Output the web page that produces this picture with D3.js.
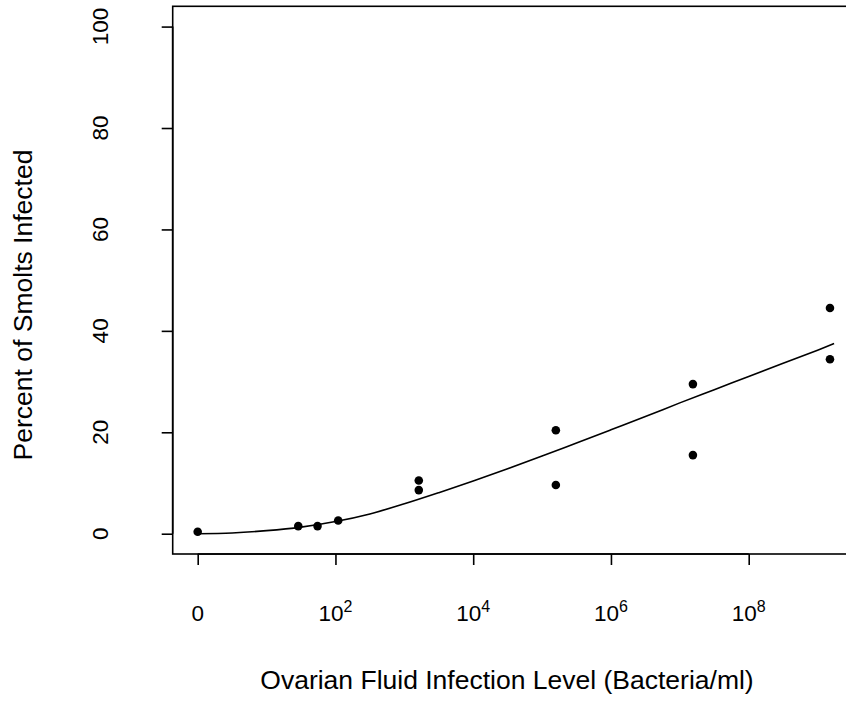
<!DOCTYPE html>
<html>
<head>
<meta charset="utf-8">
<script src="https://d3js.org/d3.v7.min.js"></script>
<style>
  html, body { margin: 0; padding: 0; background: #fff; }
  svg { display: block; }
  text { font-family: "Liberation Sans", Arial, Helvetica, sans-serif; fill: #000; }
</style>
</head>
<body>
<svg id="chart" width="846" height="721"></svg>
<script>
// Observed points: x = log10 infection level, y = percent of smolts infected
const pointLogX = [0, 1.46, 1.74, 2.04, 3.21, 3.21, 5.2, 5.2, 7.19, 7.19, 9.18, 9.18];
const pointPct  = [0.4, 1.5, 1.5, 2.6, 10.5, 8.6, 20.4, 9.6, 29.5, 15.5, 44.5, 34.4];

// Fitted curve
const curveLogX = [0, 0.5, 1.0, 1.5, 2.0, 2.5, 3.0, 3.5, 4.0, 4.5, 5.0, 5.5, 6.0, 6.5, 7.0, 7.5, 8.0, 8.5, 9.0, 9.24];
const curvePct  = [0, 0.15, 0.6, 1.3, 2.4, 3.9, 5.9, 8.1, 10.4, 12.8, 15.3, 17.9, 20.5, 23.1, 25.8, 28.4, 31.0, 33.6, 36.2, 37.5];

// Axis ticks
const xTickVals = [0, 2, 4, 6, 8];
const xTickBase = ["0", "10", "10", "10", "10"];
const xTickExp  = ["", "2", "4", "6", "8"];
const yTickVals = [0, 20, 40, 60, 80, 100];

const xTitle = "Ovarian Fluid Infection Level (Bacteria/ml)";
const yTitle = "Percent of Smolts Infected";

const svg = d3.select("#chart");
const box = { left: 172.7, top: 6.3, bottom: 554, right: 856 };

const x = d3.scaleLinear().domain([0, 8]).range([197.7, 748.7]);
const y = d3.scaleLinear().domain([-4, 104]).range([box.bottom, box.top]);

svg.append("defs").append("clipPath").attr("id", "clip")
  .append("rect")
  .attr("x", box.left).attr("y", box.top)
  .attr("width", box.right - box.left).attr("height", box.bottom - box.top);

// Curve
const line = d3.line()
  .x((d, i) => x(curveLogX[i]))
  .y((d, i) => y(curvePct[i]))
  .curve(d3.curveCatmullRom);

svg.append("path")
  .datum(curvePct)
  .attr("clip-path", "url(#clip)")
  .attr("d", line)
  .attr("fill", "none")
  .attr("stroke", "#000")
  .attr("stroke-width", 1.6);

// Points
svg.append("g").attr("clip-path", "url(#clip)")
  .selectAll("circle")
  .data(pointPct)
  .join("circle")
  .attr("cx", (d, i) => x(pointLogX[i]))
  .attr("cy", d => y(d))
  .attr("r", 4.3)
  .attr("fill", "#000");

// Box
svg.append("rect")
  .attr("x", box.left).attr("y", box.top)
  .attr("width", box.right - box.left).attr("height", box.bottom - box.top)
  .attr("fill", "none").attr("stroke", "#000").attr("stroke-width", 1.6);

// X axis
const xAxis = d3.axisBottom(x).tickValues(xTickVals).tickSize(11).tickFormat("");
const gx = svg.append("g").attr("transform", `translate(0,${box.bottom})`).call(xAxis);
gx.select(".domain").attr("stroke-width", 1.6).attr("d", `M${x(0)},0H${x(8)}`);
gx.selectAll(".tick line").attr("stroke-width", 1.6);

const xl = svg.append("g").selectAll("text")
  .data(xTickVals)
  .join("text")
  .attr("x", d => x(d))
  .attr("y", 621)
  .attr("text-anchor", "middle")
  .style("font-size", "22.5px");
xl.each(function(d, i) {
  const t = d3.select(this);
  t.append("tspan").text(xTickBase[i]);
  if (xTickExp[i]) {
    t.append("tspan").attr("dy", -9).style("font-size", "16px").text(xTickExp[i]);
  }
});

// Y axis
const yAxis = d3.axisLeft(y).tickValues(yTickVals).tickSize(11).tickFormat("");
const gy = svg.append("g").attr("transform", `translate(${box.left},0)`).call(yAxis);
gy.select(".domain").attr("stroke-width", 1.6).attr("d", `M0,${y(0)}V${y(100)}`);
gy.selectAll(".tick line").attr("stroke-width", 1.6);

svg.append("g").selectAll("text")
  .data(yTickVals)
  .join("text")
  .attr("transform", d => `translate(108,${y(d)}) rotate(-90)`)
  .attr("text-anchor", "middle")
  .style("font-size", "22.5px")
  .text(d => d);

// Titles
svg.append("text")
  .attr("x", (258 + 756) / 2)
  .attr("y", 689)
  .attr("text-anchor", "middle")
  .style("font-size", "26.5px")
  .text(xTitle);

svg.append("text")
  .attr("transform", `translate(32,${(148 + 462) / 2}) rotate(-90)`)
  .attr("text-anchor", "middle")
  .style("font-size", "26.5px")
  .text(yTitle);
</script>
</body>
</html>
